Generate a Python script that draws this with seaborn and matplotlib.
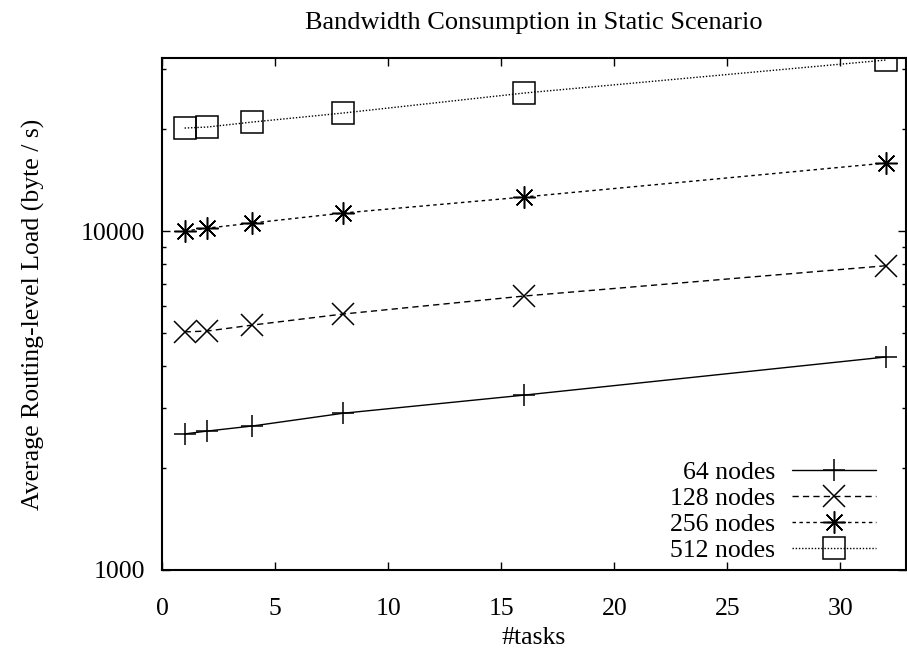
import matplotlib
matplotlib.use("Agg")
import matplotlib.pyplot as plt
import matplotlib.ticker as mticker
import numpy as np
import pandas as pd
import seaborn as sns

# ---- data ----
tasks = [1, 2, 4, 8, 16, 32]
series_names = ["64 nodes", "128 nodes", "256 nodes", "512 nodes"]
load_64 = [2520, 2570, 2660, 2900, 3280, 4250]
load_128 = [5040, 5070, 5280, 5690, 6430, 7900]
load_256 = [10000, 10200, 10560, 11300, 12600, 15870]
load_512 = [20130, 20270, 20970, 22290, 25530, 31950]

df = pd.DataFrame({
    "tasks": tasks * 4,
    "load": load_64 + load_128 + load_256 + load_512,
    "series": [n for n in series_names for _ in tasks],
})

sns.set_theme(style="ticks")
plt.rcParams["font.family"] = ["Liberation Serif", "DejaVu Serif"]
for k in ["text.color", "axes.labelcolor", "xtick.color", "ytick.color", "axes.edgecolor"]:
    plt.rcParams[k] = "black"

fig = plt.figure(figsize=(9.07, 6.52), dpi=100)
ax = fig.add_axes([162 / 907, 1 - 570 / 652, (906 - 162) / 907, (570 - 58) / 652])

markers = {"64 nodes": "+", "128 nodes": "x", "256 nodes": (8, 2, 0), "512 nodes": "s"}
dashes = {"64 nodes": None, "128 nodes": (4.5, 3), "256 nodes": (2.5, 2.5), "512 nodes": (1, 1.3)}
msizes = {"64 nodes": 16, "128 nodes": 16, "256 nodes": 16, "512 nodes": 15.5}

handles = []
for name in series_names:
    sub = df[df["series"] == name]
    sns.lineplot(data=sub, x="tasks", y="load", color="black", linewidth=1.0,
                 marker=markers[name], markersize=msizes[name], markeredgewidth=1.1,
                 markeredgecolor="black", markerfacecolor="none",
                 legend=False, ax=ax)
    line = ax.lines[-1]
    if dashes[name] is not None:
        line.set_dashes(dashes[name])
    handles.append(line)

ax.set_yscale("log")
ax.set_xlim(0, 32.9)
ax.set_ylim(1000, 32400)

ax.xaxis.set_major_locator(mticker.MultipleLocator(5))
ax.yaxis.set_major_locator(mticker.LogLocator(base=10, numticks=10))
ax.yaxis.set_minor_locator(mticker.LogLocator(base=10, subs=np.arange(2, 10), numticks=20))
ax.yaxis.set_major_formatter(mticker.FuncFormatter(lambda v, p: f"{int(round(v))}"))
ax.yaxis.set_minor_formatter(mticker.NullFormatter())

fs = 18.5
ax.tick_params(axis="both", which="major", direction="in", length=6, width=1.0,
               top=True, right=True, labelsize=fs, colors="black")
ax.tick_params(axis="x", which="major", pad=20)
ax.tick_params(axis="y", which="major", pad=12)
ax.tick_params(axis="y", which="minor", direction="in", length=3, width=1.0, left=True, right=True)
ax.tick_params(axis="x", which="minor", bottom=False, top=False)

for sp in ax.spines.values():
    sp.set_linewidth(1.5)
    sp.set_color("black")
    sp.set_visible(True)

ax.set_xlabel("#tasks", fontsize=fs, labelpad=5)
ax.set_ylabel("Average Routing-level Load (byte / s)", fontsize=fs, labelpad=26)
ax.set_title("Bandwidth Consumption in Static Scenario", fontsize=19, pad=21)
ax.grid(False)

leg = ax.legend(handles=handles, labels=series_names, loc="lower right",
                bbox_to_anchor=(0.9597, 0.016), frameon=False, markerfirst=False,
                fontsize=fs, handlelength=3.27, handletextpad=0.66,
                labelspacing=0.11, borderaxespad=0.0, borderpad=0.0)

fig.savefig("out.png", dpi=100, facecolor="white")
